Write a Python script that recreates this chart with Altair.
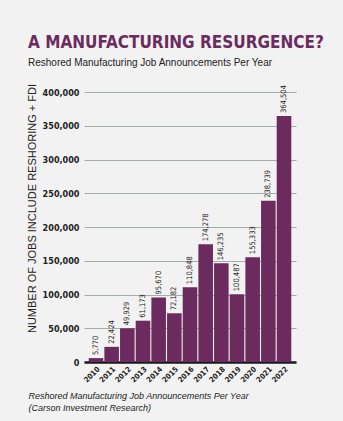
import altair as alt
import pandas as pd

years = ["2010", "2011", "2012", "2013", "2014", "2015", "2016",
         "2017", "2018", "2019", "2020", "2021", "2022"]
jobs = [5770, 22424, 49929, 61173, 95670, 72182, 110848,
        174278, 146235, 100487, 155333, 238739, 364504]
y_ticks = [0, 50000, 100000, 150000, 200000, 250000, 300000, 350000, 400000]
title_text = ["A MANUFACTURING RESURGENCE?"]
subtitle_text = ["Reshored Manufacturing Job Announcements Per Year"]

df = pd.DataFrame({"year": years, "jobs": jobs})

PURPLE = "#6c2b5e"
COND = "DejaVu Sans Condensed, Liberation Sans Narrow, sans-serif"
SANS = "Liberation Sans, Arial, Helvetica, sans-serif"

x_enc = alt.X(
    "year:N",
    sort=years,
    scale=alt.Scale(paddingInner=0.07, paddingOuter=0.3),
    axis=alt.Axis(
        title=["Reshored Manufacturing Job Announcements Per Year",
               "(Carson Investment Research)"],
        titleFont=SANS, titleFontSize=9, titleFontStyle="italic",
        titleFontWeight="normal", titleColor="#222222",
        titleAnchor="start", titleAlign="left", titleX=-56, titleY=36,
        titleBaseline="alphabetic", titleLineHeight=12,
        labelAngle=-45, labelFont=COND, labelFontSize=7.5, labelFontWeight="bold",
        labelColor="#222222", labelPadding=3,
        ticks=False, domainColor="#1a1a1a", domainWidth=2.5, grid=False,
    ),
)
y_enc = alt.Y(
    "jobs:Q",
    scale=alt.Scale(domain=[0, 400000], nice=False),
    axis=alt.Axis(
        values=y_ticks, format=",.0f",
        title="NUMBER OF JOBS INCLUDE RESHORING + FDI",
        titleFont=SANS, titleFontSize=11, titleFontWeight="normal",
        titleColor="#222222", titleX=-52, titleY=116, titleAlign="center",
        titleBaseline="middle", titleAngle=270,
        labelFont=COND, labelFontSize=9, labelFontWeight="bold",
        labelColor="#222222", labelPadding=5,
        ticks=False, domain=False,
        grid=True, gridColor="#a3ada8", gridWidth=1,
    ),
)

base = alt.Chart(df).encode(x=x_enc, y=y_enc)
bars = base.mark_bar(color=PURPLE)
labels = base.mark_text(
    angle=270, align="left", baseline="middle", dx=3,
    font=COND, fontSize=7.5, color="#222222",
).encode(text=alt.Text("jobs:Q", format=",.0f"))

title = alt.Chart(pd.DataFrame({"t": title_text})).mark_text(
    align="left", baseline="alphabetic", font=COND, fontSize=17,
    fontWeight="bold", color=PURPLE,
).encode(text="t:N", x=alt.value(-56), y=alt.value(-44))

subtitle = alt.Chart(pd.DataFrame({"t": subtitle_text})).mark_text(
    align="left", baseline="alphabetic", font=SANS, fontSize=10,
    color="#222222",
).encode(text="t:N", x=alt.value(-56), y=alt.value(-26.5))

chart = alt.layer(bars, labels, title, subtitle).properties(
    width=212, height=270,
    autosize=alt.AutoSizeParams(type="none"),
    padding={"left": 84, "top": 92, "right": 47, "bottom": 59},
    background="#f2f2f2",
).configure_view(stroke=None)

chart.save("out.html", embed_options={"renderer": "svg", "actions": False})
